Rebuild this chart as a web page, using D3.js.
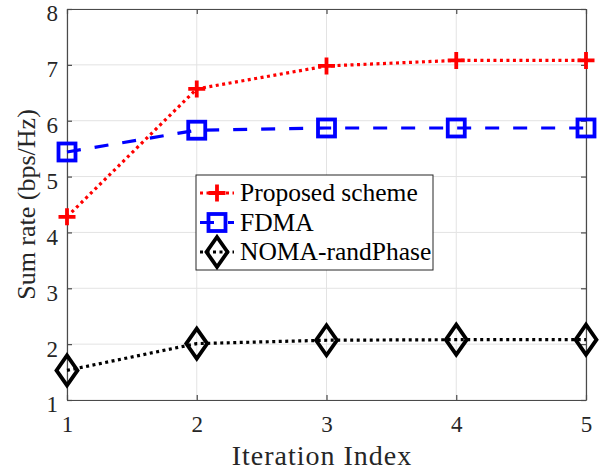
<!DOCTYPE html>
<html>
<head>
<meta charset="utf-8">
<script src="https://cdn.jsdelivr.net/npm/d3@7"></script>
<style>
  body { margin: 0; background: #fff; }
  svg { font-family: "Liberation Serif", "DejaVu Serif", serif; }
</style>
</head>
<body>
<svg id="chart" width="613" height="471"></svg>
<script>
// data
var iterations = [1, 2, 3, 4, 5];
var proposed = [4.28, 6.57, 6.98, 7.08, 7.08];
var fdma = [5.44, 5.83, 5.87, 5.87, 5.87];
var nomaRand = [1.53, 2.01, 2.07, 2.08, 2.08];
var yTicks = [1, 2, 3, 4, 5, 6, 7, 8];
var seriesNames = ["Proposed scheme", "FDMA", "NOMA-randPhase"];

var svg = d3.select("#chart");
var margin = {left: 67, top: 9, right: 27, bottom: 71};
var width = 613 - margin.left - margin.right;
var height = 471 - margin.top - margin.bottom;

var x = d3.scaleLinear().domain([1, 5]).range([0, width]);
var y = d3.scaleLinear().domain([1, 8]).range([height, 0]);

var g = svg.append("g").attr("transform", "translate(" + margin.left + "," + margin.top + ")");

// grid
g.append("g").selectAll("line").data(iterations).enter().append("line")
  .attr("x1", d => x(d)).attr("x2", d => x(d))
  .attr("y1", 0).attr("y2", height)
  .attr("stroke", "#e3e3e3").attr("stroke-width", 1);
g.append("g").selectAll("line").data(yTicks).enter().append("line")
  .attr("y1", d => y(d)).attr("y2", d => y(d))
  .attr("x1", 0).attr("x2", width)
  .attr("stroke", "#e3e3e3").attr("stroke-width", 1);

// axes (ticks pointing inward, like matlab)
var axisColor = "#4a4a4a";
const styleAxis = (a) => {
  a.select(".domain").attr("stroke", axisColor).attr("stroke-width", 1.2);
  a.selectAll(".tick line").attr("stroke", axisColor).attr("stroke-width", 1.2);
};
var xAxis = g.append("g").attr("transform", "translate(0," + height + ")")
  .call(d3.axisBottom(x).tickValues(iterations).tickFormat(d3.format("d")).tickSizeInner(-5).tickSizeOuter(0).tickPadding(16));
var yAxis = g.append("g")
  .call(d3.axisLeft(y).tickValues(yTicks).tickFormat(d3.format("d")).tickSizeInner(-5).tickSizeOuter(0).tickPadding(9));
[xAxis, yAxis].forEach(function(a) {
  styleAxis(a);
  a.selectAll("text").attr("font-size", 23).attr("fill", "#262626").attr("font-family", "Liberation Serif");
});
yAxis.selectAll("text").attr("dy", "0.52em");
// top & right frame
g.append("g").call(d3.axisTop(x).tickValues(iterations).tickFormat("").tickSizeInner(-5).tickSizeOuter(0)).call(styleAxis);
g.append("g").attr("transform", "translate(" + width + ",0)")
  .call(d3.axisRight(y).tickValues(yTicks).tickFormat("").tickSizeInner(-5).tickSizeOuter(0)).call(styleAxis);

// axis labels
svg.append("text").attr("x", 322).attr("y", 465)
  .attr("text-anchor", "middle").attr("font-size", 28).attr("letter-spacing", 1).attr("fill", "#262626")
  .text("Iteration Index");
svg.append("text").attr("transform", "translate(35," + (margin.top + height / 2) + ") rotate(-90)")
  .attr("text-anchor", "middle").attr("font-size", 26).attr("fill", "#262626")
  .text("Sum rate (bps/Hz)");

// markers
const drawMarker = (sel, type, color) => {
  if (type == "plus") {
    sel.append("path").attr("d", "M-8.5,0H8.5M0,-8.5V8.5")
      .attr("stroke", color).attr("stroke-width", 3.8).attr("fill", "none");
  } else if (type == "square") {
    sel.append("rect").attr("x", -8.5).attr("y", -8.5).attr("width", 17).attr("height", 17)
      .attr("stroke", color).attr("stroke-width", 3.8).attr("fill", "none");
  } else {
    sel.append("path").attr("d", "M0,-15L10.5,0L0,15L-10.5,0Z")
      .attr("stroke", color).attr("stroke-width", 3.8).attr("fill", "none");
  }
};

var series = [
  {name: seriesNames[0], values: proposed, color: "#ff0000", dash: "3,3.5", marker: "plus"},
  {name: seriesNames[1], values: fdma, color: "#0000ff", dash: "14,14", marker: "square"},
  {name: seriesNames[2], values: nomaRand, color: "#000000", dash: "3,3.5", marker: "diamond"}
];

var line = d3.line().x((d, i) => x(iterations[i])).y(d => y(d));

series.forEach(function(s) {
  g.append("path").datum(s.values).attr("d", line)
    .attr("fill", "none").attr("stroke", s.color).attr("stroke-width", 3.2)
    .attr("stroke-dasharray", s.dash);
  s.values.forEach(function(v, i) {
    var m = g.append("g").attr("transform", "translate(" + x(iterations[i]) + "," + y(v) + ")");
    drawMarker(m, s.marker, s.color);
  });
});

// legend
var legend = svg.append("g").attr("transform", "translate(196,175)");
legend.append("rect").attr("width", 237).attr("height", 95)
  .attr("fill", "#fff").attr("stroke", "#262626").attr("stroke-width", 1);
series.forEach(function(s, i) {
  var row = legend.append("g").attr("transform", "translate(0," + (18 + i * 29.5) + ")");
  row.append("line").attr("x1", 4).attr("x2", 38).attr("y1", 0).attr("y2", 0)
    .attr("stroke", s.color).attr("stroke-width", 3.2).attr("stroke-dasharray", s.dash);
  var m = row.append("g").attr("transform", "translate(21,0)");
  drawMarker(m, s.marker, s.color);
  row.append("text").attr("x", 44).attr("y", 8).attr("font-size", 25.5).attr("fill", "#000")
    .text(s.name);
});
</script>
</body>
</html>
